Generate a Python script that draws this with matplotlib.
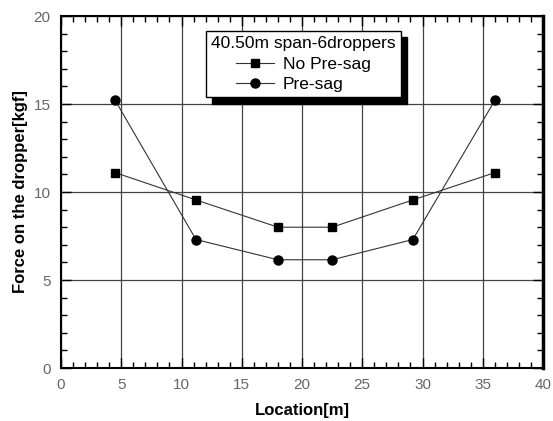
import numpy as np
import matplotlib
matplotlib.use('Agg')
from matplotlib import pyplot as plt
from matplotlib.ticker import MultipleLocator

plt.rcParams['font.family'] = ['Liberation Sans', 'DejaVu Sans']

# 위치 / 힘 데이터
location = [4.5, 11.2, 18.0, 22.5, 29.2, 36.0]
no_presag = [11.1, 9.55, 8.0, 8.0, 9.55, 11.1]
presag = [15.2, 7.3, 6.15, 6.15, 7.3, 15.2]
legend_title = '40.50m span-6droppers'

fig = plt.figure(figsize=(5.53, 4.21), dpi=100)
ax = fig.add_axes([61 / 553, 1 - 368 / 421, 482 / 553, 352 / 421])

ax.plot(location, no_presag, color='#333333', lw=0.8, marker='s', ms=5.5,
        mfc='black', mec='black', label='No Pre-sag')
ax.plot(location, presag, color='#333333', lw=0.8, marker='o', ms=6.5,
        mfc='black', mec='black', label='Pre-sag')

ax.set_xlim(0, 40)
ax.set_ylim(0, 20)
ax.xaxis.set_major_locator(MultipleLocator(5))
ax.xaxis.set_minor_locator(MultipleLocator(1))
ax.yaxis.set_major_locator(MultipleLocator(5))
ax.yaxis.set_minor_locator(MultipleLocator(1))
ax.grid(True, which='major', color='#444444', lw=0.9)
ax.tick_params(which='both', direction='in', top=True, right=True, colors='black',
               labelcolor='#666666', labelsize=11)
ax.tick_params(which='major', length=7, width=1)
ax.tick_params(which='minor', length=4, width=1)
ax.tick_params(axis='x', which='major', pad=7)
ax.tick_params(axis='y', which='major', pad=7.5)
for s in ax.spines.values():
    s.set_linewidth(1.5)
ax.spines['right'].set_linewidth(2.5)

ax.set_xlabel('Location[m]', fontsize=12, fontweight='bold', labelpad=8)
ax.set_ylabel('Force on the dropper[kgf]', fontsize=12, fontweight='bold', labelpad=4)

leg = ax.legend(title=legend_title, loc='upper left', bbox_to_anchor=(0.300, 0.957),
                borderaxespad=0, fancybox=False, framealpha=1, edgecolor='black',
                fontsize=12.5, title_fontsize=12.5, handlelength=2.2, handletextpad=0.5,
                borderpad=0.3, labelspacing=0.3,
                shadow={'color': 'black', 'alpha': 1, 'ox': 4.5, 'oy': -4.5})
leg.get_frame().set_linewidth(1.0)

fig.savefig('out.png', dpi=100)
